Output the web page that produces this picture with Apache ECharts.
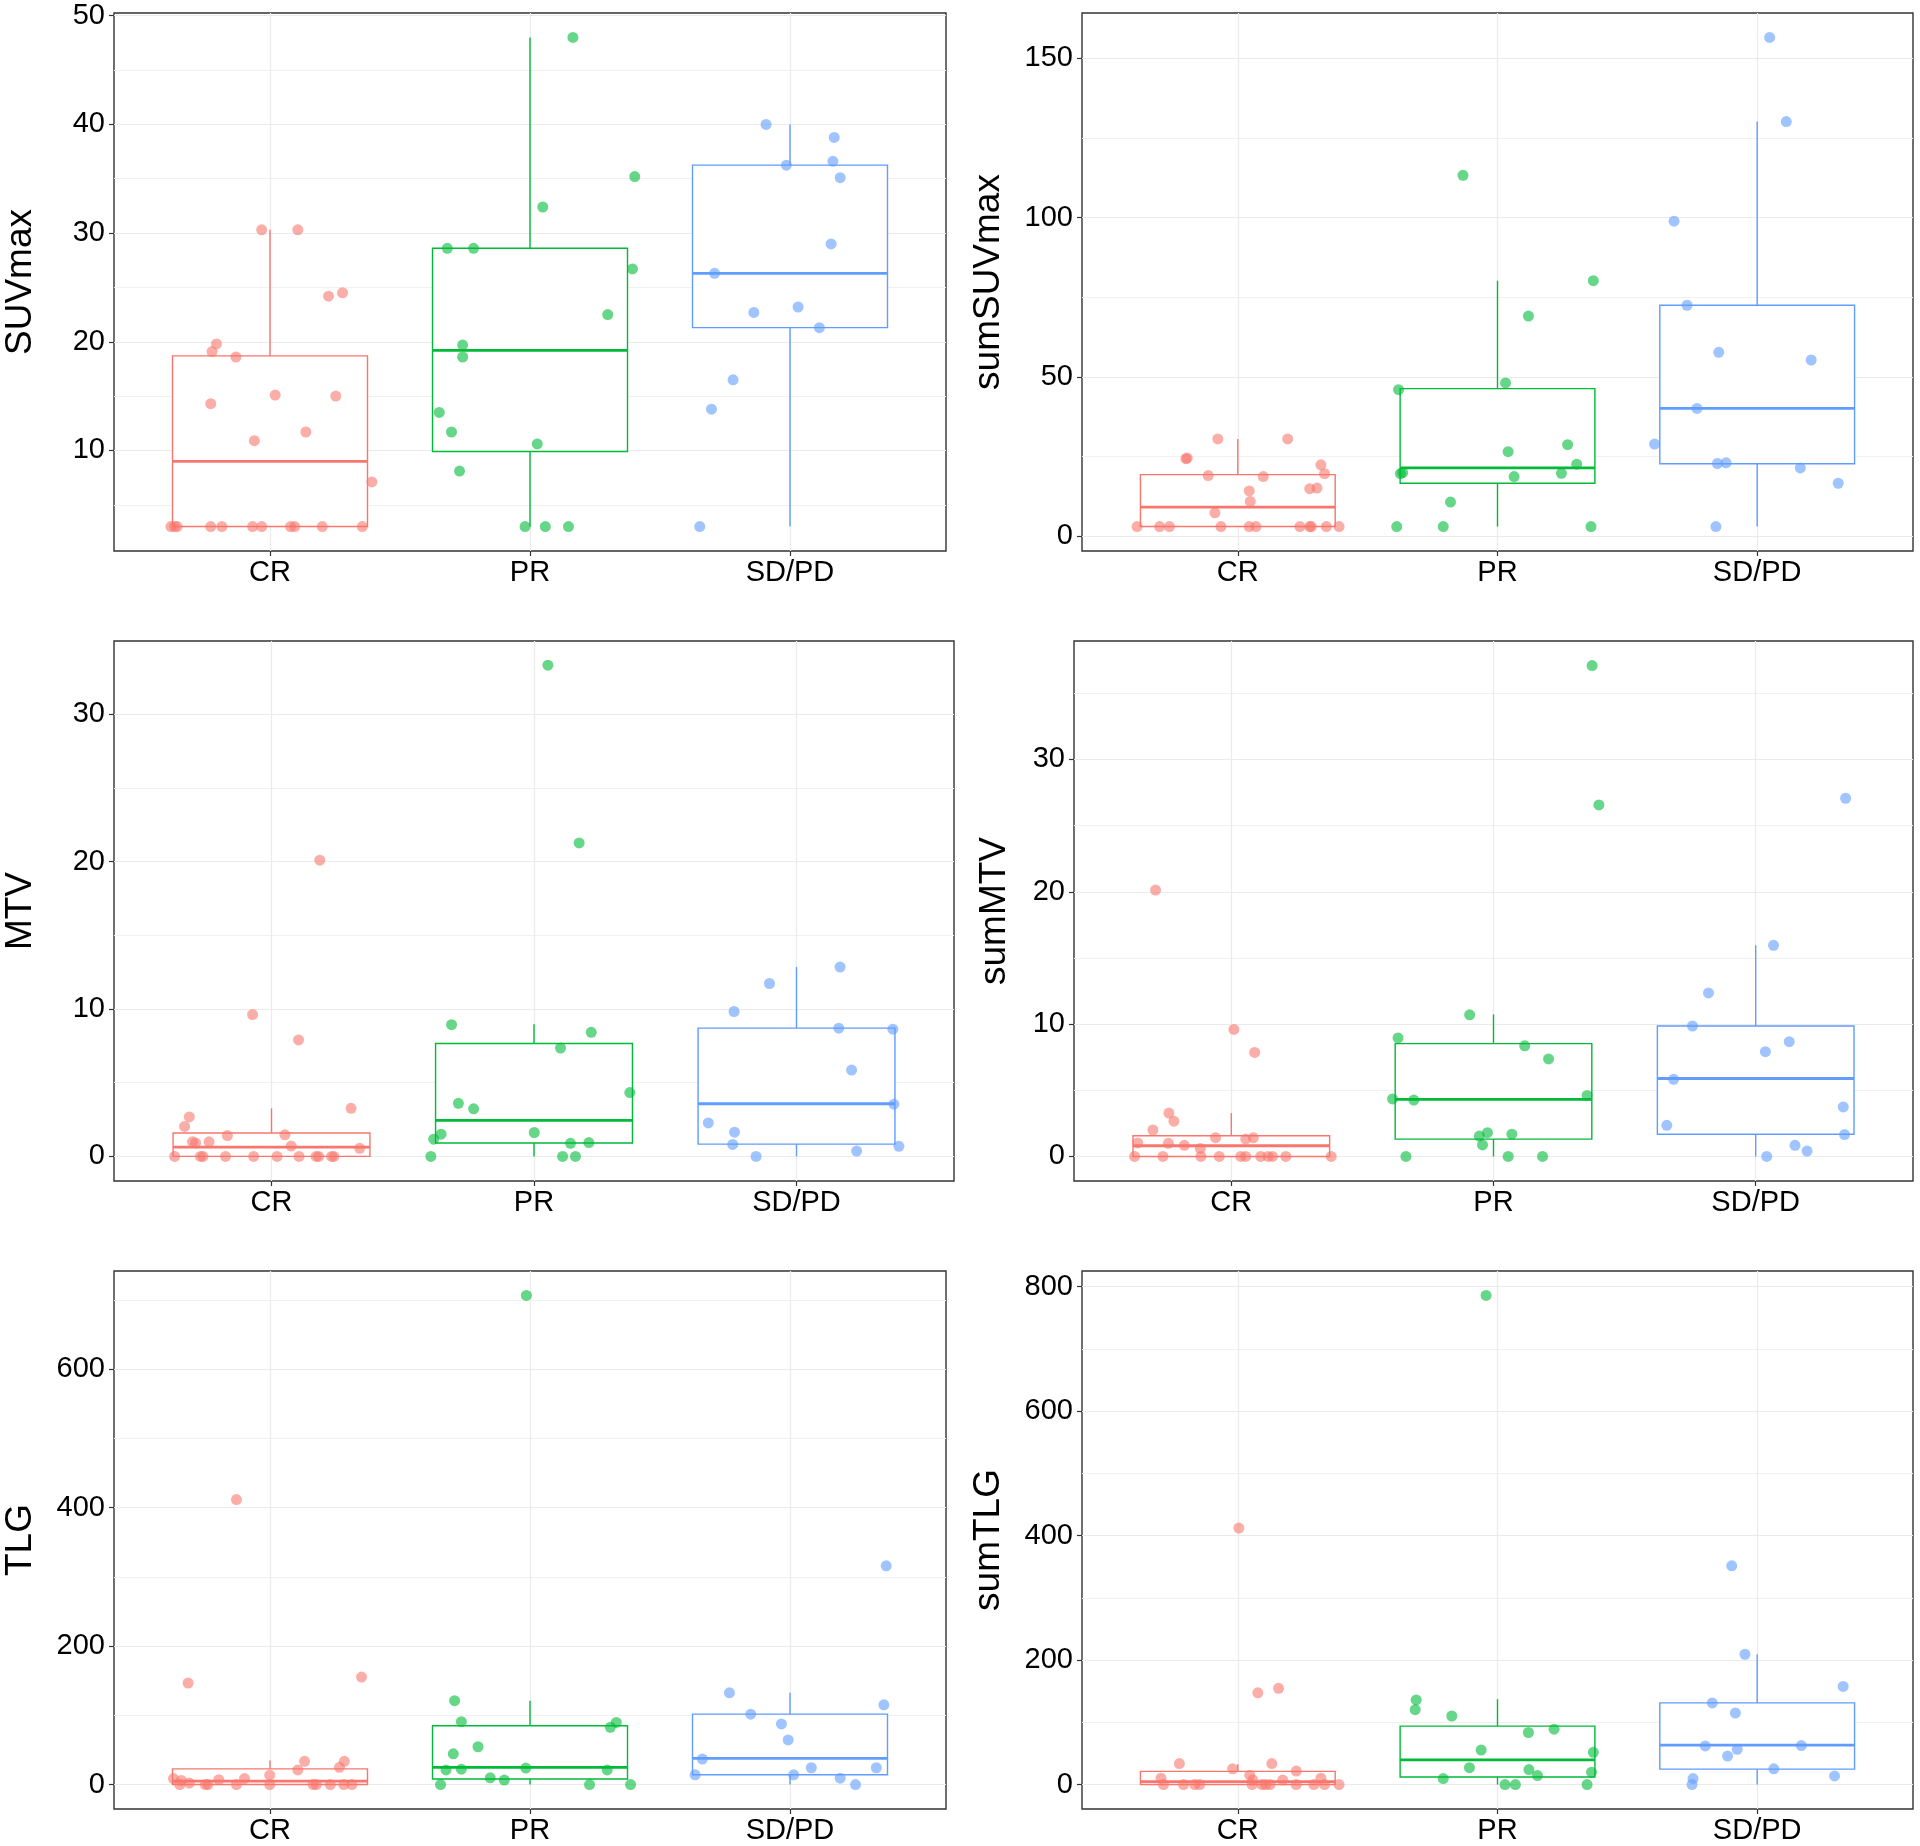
<!DOCTYPE html>
<html>
<head>
<meta charset="utf-8">
<title>PET parameters by response</title>
<script src="https://cdn.jsdelivr.net/npm/echarts@6/dist/echarts.min.js"></script>
<style>
  html, body { margin: 0; padding: 0; background: #fff; }
  #chart { width: 1920px; height: 1846px; }
</style>
</head>
<body>
<div id="chart"></div>
<script>
// groups on the x axis, drawn at 1, 2, 3
const categories = ['CR', 'PR', 'SD/PD'];
const groupColors = ['#F8766D', '#00BA38', '#619CFF'];

// points are [jittered x, value]; boxes are [lower whisker, Q1, median, Q3, upper whisker]
const suvmaxCR = [[0.619,3],[0.633,3],[0.643,3],[0.772,3],[0.815,3],[0.933,3],[0.968,3],[1.079,3],[1.095,3],[1.201,3],[1.355,3],
  [0.968,30.3],[1.107,30.3],[1.225,24.2],[1.279,24.5],[0.794,19.8],[0.777,19.1],[0.869,18.6],[0.772,14.3],[1.020,15.1],[1.253,15.0],[1.138,11.7],[0.940,10.9],[1.392,7.1]];
const suvmaxPR = [[2.165,48.0],[2.049,32.4],[2.403,35.2],[1.682,28.6],[1.783,28.6],[2.394,26.7],[2.299,22.5],[1.741,19.7],[1.741,18.6],[1.651,13.5],[1.698,11.7],[2.028,10.6],[1.729,8.1],[1.981,3],[2.059,3],[2.148,3]];
const suvmaxSD = [[2.908,40.0],[3.170,38.8],[2.986,36.25],[3.165,36.6],[3.193,35.1],[3.158,29.0],[2.710,26.3],[2.861,22.7],[3.031,23.2],[3.113,21.3],[2.781,16.5],[2.698,13.8],[2.653,3]];
const suvmaxBox = [[3, 3, 9.0, 18.7, 30.3], [3, 9.9, 19.2, 28.6, 48.0], [3, 21.3, 26.3, 36.25, 40.0]];

const sumSuvmaxCR = [[0.612,3],[0.699,3],[0.737,3],[0.935,3],[1.044,3],[1.070,3],[1.239,3],[1.277,3],[1.283,3],[1.341,3],[1.390,3],
  [0.923,30.5],[1.192,30.5],[0.805,24.5],[0.800,24.3],[0.886,19.0],[1.098,18.7],[1.320,22.4],[1.334,19.6],[1.044,14.2],[1.277,14.9],[1.305,15.1],[1.048,10.9],[0.912,7.3]];
const sumSuvmaxPR = [[1.867,113.3],[2.369,80.2],[2.119,69.1],[2.031,48.1],[1.619,46.0],[2.041,26.5],[2.270,28.7],[2.305,22.6],[1.626,19.6],[1.635,19.9],[2.064,18.7],[2.246,19.7],[1.819,10.7],[1.612,3],[1.791,3],[2.360,3]];
const sumSuvmaxSD = [[3.048,156.6],[3.112,130.2],[2.680,98.9],[2.730,72.5],[2.852,57.7],[3.208,55.3],[2.768,40.1],[2.605,28.9],[2.847,22.8],[2.880,23.0],[3.166,21.4],[3.312,16.6],[2.841,3]];
const sumSuvmaxBox = [[3, 3, 9.1, 19.3, 30.5], [3, 16.6, 21.4, 46.3, 80.2], [3, 22.7, 40.1, 72.5, 130.2]];

const mtvCR = [[0.631,0],[0.729,0],[0.739,0],[0.825,0],[0.932,0],[1.021,0],[1.105,0],[1.170,0],[1.180,0],[1.229,0],[1.238,0],
  [0.687,2.68],[0.669,2.03],[0.699,0.99],[0.711,0.91],[0.762,0.99],[0.832,1.41],[1.051,1.46],[1.075,0.70],[1.336,0.55],[1.303,3.26],[0.928,9.62],[1.103,7.9],[1.184,20.1]];
const mtvPR = [[2.053,33.33],[2.172,21.27],[1.686,8.94],[2.218,8.42],[2.101,7.35],[1.712,3.6],[1.770,3.23],[2.365,4.33],[2.001,1.62],[1.646,1.51],[1.618,1.17],[2.139,0.89],[2.209,0.94],[1.607,0],[2.109,0],[2.158,0]];
const mtvSD = [[3.166,12.85],[2.897,11.73],[2.762,9.83],[3.161,8.7],[3.367,8.63],[3.210,5.86],[3.371,3.54],[2.664,2.27],[2.764,1.64],[2.757,0.81],[3.390,0.68],[3.229,0.36],[2.846,0]];
const mtvBox = [[0, 0, 0.63, 1.59, 3.26], [0, 0.91, 2.45, 7.66, 8.97], [0, 0.83, 3.57, 8.7, 12.85]];

const sumMtvCR = [[0.631,0],[0.739,0],[0.884,0],[0.954,0],[1.036,0],[1.055,0],[1.112,0],[1.140,0],[1.157,0],[1.208,0],[1.381,0],
  [0.711,20.13],[1.010,9.6],[1.089,7.86],[0.762,3.28],[0.781,2.67],[0.701,2.0],[0.643,1.02],[0.760,0.99],[0.821,0.84],[0.882,0.61],[0.940,1.42],[1.055,1.31],[1.084,1.42]];
const sumMtvPR = [[2.376,37.1],[2.402,26.57],[1.909,10.7],[1.636,8.96],[2.119,8.36],[2.210,7.37],[2.357,4.61],[1.615,4.35],[1.696,4.26],[1.977,1.8],[1.946,1.54],[2.070,1.68],[1.958,0.87],[1.666,0],[2.056,0],[2.187,0]];
const sumMtvSD = [[3.343,27.07],[3.068,15.96],[2.820,12.36],[2.759,9.86],[3.128,8.67],[3.037,7.92],[2.687,5.83],[3.334,3.74],[2.661,2.35],[3.339,1.65],[3.150,0.84],[3.196,0.41],[3.042,0]];
const sumMtvBox = [[0, 0, 0.81, 1.57, 3.28], [0, 1.31, 4.32, 8.53, 10.73], [0, 1.68, 5.89, 9.86, 15.96]];

const tlgCR = [[0.871,411.7],[0.685,146.6],[1.352,155.3],[1.133,33.5],[1.286,33.5],[1.267,24.9],[1.107,21.1],[0.999,13.5],[0.629,8.7],[0.659,6.0],[0.803,7.0],[0.902,8.7],[0.690,2.2],
  [0.653,0],[0.751,0],[0.761,0],[0.871,0],[0.999,0],[1.166,0],[1.178,0],[1.232,0],[1.284,0],[1.315,0]];
const tlgPR = [[1.986,706.5],[1.710,121.2],[1.736,90.9],[2.332,89.8],[2.309,82.8],[1.800,54.6],[1.705,44.4],[1.677,21.1],[1.736,22.2],[1.984,23.8],[2.297,21.1],[1.847,9.7],[1.901,6.5],[1.656,0],[2.229,0],[2.387,0]];
const tlgSD = [[3.370,315.9],[2.767,132.5],[3.361,115.2],[2.849,101.7],[2.967,87.6],[2.993,64.4],[2.663,36.8],[3.082,24.3],[3.332,24.3],[2.635,14.1],[3.014,14.1],[3.193,9.2],[3.252,0]];
const tlgBox = [[0, 0, 4.9, 22.7, 34.6], [0, 8.1, 24.9, 84.9, 121.2], [0, 14.1, 37.9, 101.7, 132.5]];

const sumTlgCR = [[1.004,412.0],[1.077,147.4],[1.157,154.6],[0.775,33.7],[1.131,33.7],[0.980,25.3],[1.225,21.7],[1.046,15.0],[0.704,10.2],[1.320,10.2],[1.058,7.2],[1.173,7.2],
  [0.714,0],[0.791,0],[0.834,0],[0.853,0],[1.055,0],[1.093,0],[1.107,0],[1.124,0],[1.225,0],[1.293,0],[1.334,0],[1.390,0]];
const sumTlgPR = [[1.956,785.6],[1.687,135.9],[1.683,120.3],[1.824,110.1],[2.218,89.0],[2.119,83.6],[1.937,55.3],[2.369,51.7],[1.892,27.1],[2.121,24.1],[2.362,19.8],[2.154,14.4],[1.791,9.6],[2.029,0],[2.069,0],[2.345,0]];
const sumTlgSD = [[2.902,351.3],[2.953,209.3],[3.331,157.6],[2.827,131.1],[2.916,114.9],[2.800,62.0],[2.923,56.5],[3.170,62.6],[2.886,45.7],[3.064,25.3],[3.298,13.8],[2.753,9.6],[2.749,0]];
const sumTlgBox = [[0, 0, 4.8, 21.1, 32.5], [0, 12.0, 39.7, 93.8, 137.1], [0, 24.7, 63.2, 131.1, 209.3]];

// y axis titles, limits and ticks, one entry per panel (row by row)
const panelNames = ['SUVmax', 'sumSUVmax', 'MTV', 'sumMTV', 'TLG', 'sumTLG'];
const yLimits = [[0.75, 50.25], [-4.68, 164.28], [-1.67, 34.97], [-1.855, 38.955], [-35.3, 741.8], [-39.3, 824.9]];
const majorTicks = [[10,20,30,40,50], [0,50,100,150], [0,10,20,30], [0,10,20,30], [0,200,400,600], [0,200,400,600,800]];
const minorTicks = [[5,15,25,35,45], [25,75,125], [5,15,25], [5,15,25,35], [100,300,500,700], [100,300,500,700]];
const panelPoints = [
  [suvmaxCR, suvmaxPR, suvmaxSD], [sumSuvmaxCR, sumSuvmaxPR, sumSuvmaxSD],
  [mtvCR, mtvPR, mtvSD], [sumMtvCR, sumMtvPR, sumMtvSD],
  [tlgCR, tlgPR, tlgSD], [sumTlgCR, sumTlgPR, sumTlgSD]
];
const panelBoxes = [suvmaxBox, sumSuvmaxBox, mtvBox, sumMtvBox, tlgBox, sumTlgBox];

// plot areas in px
const layout = [
  {left: 114, top: 13, width: 832, height: 538, nameGap: 75},
  {left: 1082, top: 13, width: 831, height: 538, nameGap: 75},
  {left: 114, top: 641, width: 840, height: 540, nameGap: 75},
  {left: 1074, top: 641, width: 839, height: 540, nameGap: 61},
  {left: 114, top: 1271, width: 832, height: 538, nameGap: 75},
  {left: 1082, top: 1271, width: 831, height: 538, nameGap: 75}
];

const fontFamily = 'Liberation Sans, Arial, sans-serif';

function renderBox(params, api) {
    let color = groupColors[params.dataIndex];
    let x = api.value(0);
    let lo = api.coord([x, api.value(1)]);
    let q1 = api.coord([x, api.value(2)]);
    let med = api.coord([x, api.value(3)]);
    let q3 = api.coord([x, api.value(4)]);
    let hi = api.coord([x, api.value(5)]);
    let half = api.size([0.375, 0])[0];
    return {
        type: 'group',
        children: [
            {type: 'line', shape: {x1: hi[0], y1: hi[1], x2: q3[0], y2: q3[1]}, style: {stroke: color, lineWidth: 1.4}},
            {type: 'line', shape: {x1: q1[0], y1: q1[1], x2: lo[0], y2: lo[1]}, style: {stroke: color, lineWidth: 1.4}},
            {type: 'rect', shape: {x: q3[0] - half, y: q3[1], width: 2 * half, height: q1[1] - q3[1]},
                style: {fill: '#fff', stroke: color, lineWidth: 1.4}},
            {type: 'line', shape: {x1: med[0] - half, y1: med[1], x2: med[0] + half, y2: med[1]},
                style: {stroke: color, lineWidth: 2.8}}
        ]
    };
}

function init() {
    let grid = [], xAxis = [], yAxis = [], series = [];

    layout.forEach((g, i) => {
        grid.push({
            left: g.left, top: g.top, width: g.width, height: g.height,
            show: true, backgroundColor: '#fff', borderColor: '#333', borderWidth: 1.4
        });
        xAxis.push({
            type: 'value', gridIndex: i, min: 0.4, max: 3.6,
            axisLine: {show: false, onZero: false},
            axisTick: {show: true, customValues: [1, 2, 3], length: 5, lineStyle: {color: '#333', width: 1.2}},
            axisLabel: {
                customValues: [1, 2, 3], formatter: v => categories[Math.round(v) - 1],
                fontSize: 29, color: '#000', margin: 7, fontFamily: fontFamily
            },
            splitLine: {show: true, lineStyle: {color: '#ebebeb', width: 1.2}}
        });
        yAxis.push({
            type: 'value', gridIndex: i, min: yLimits[i][0], max: yLimits[i][1],
            name: panelNames[i], nameLocation: 'middle', nameGap: g.nameGap,
            nameTextStyle: {fontSize: 37, color: '#000', fontFamily: fontFamily},
            axisLine: {show: false, onZero: false},
            axisTick: {show: true, customValues: majorTicks[i], length: 5, lineStyle: {color: '#333', width: 1.2}},
            axisLabel: {customValues: majorTicks[i], fontSize: 29, color: '#000', margin: 9, fontFamily: fontFamily},
            splitLine: {show: true, lineStyle: {color: '#ebebeb', width: 1.2}}
        });
        // minor grid lines only
        yAxis.push({
            type: 'value', gridIndex: i, min: yLimits[i][0], max: yLimits[i][1], position: 'left',
            axisLine: {show: false, onZero: false},
            axisTick: {show: false, customValues: minorTicks[i]},
            axisLabel: {show: false},
            splitLine: {show: true, lineStyle: {color: '#f1f1f1', width: 1}}
        });

        series.push({
            type: 'custom', xAxisIndex: i, yAxisIndex: 2 * i,
            data: panelBoxes[i].map((b, k) => [k + 1].concat(b)),
            encode: {x: 0, y: [1, 2, 3, 4, 5]},
            renderItem: renderBox,
            silent: true, z: 2
        });
        panelPoints[i].forEach((pts, k) => {
            series.push({
                type: 'scatter', xAxisIndex: i, yAxisIndex: 2 * i,
                data: pts, symbolSize: 11,
                itemStyle: {color: groupColors[k], opacity: 0.6},
                silent: true, z: 3
            });
        });
    });

    let option = {
        animation: false,
        backgroundColor: '#fff',
        grid: grid,
        xAxis: xAxis,
        yAxis: yAxis,
        series: series
    };

    let chartDom = document.getElementById('chart');
    let myChart = echarts.init(chartDom);
    myChart.setOption(option);
    window.addEventListener('resize', () => {
        myChart.resize();
    });
}

init();
</script>
</body>
</html>
